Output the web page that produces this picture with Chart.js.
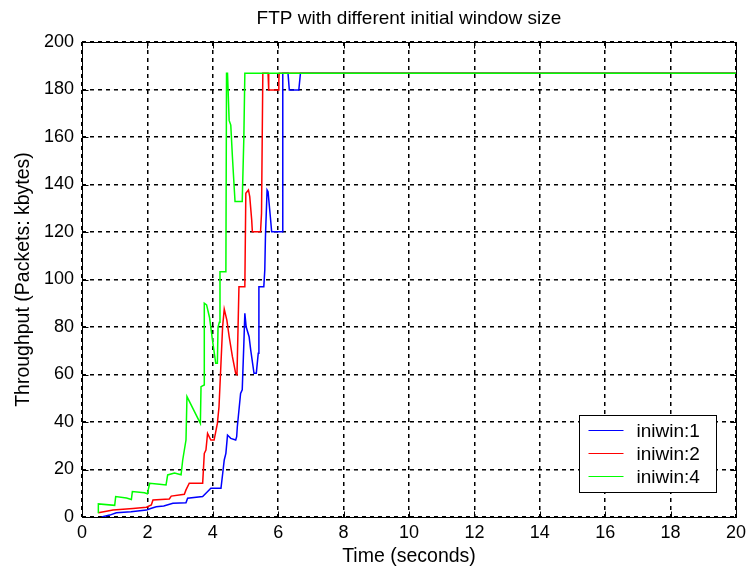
<!DOCTYPE html>
<html>
<head>
<meta charset="utf-8">
<script src="https://cdn.jsdelivr.net/npm/chart.js@4/dist/chart.umd.min.js"></script>
<style>
  html, body { margin: 0; padding: 0; background: #ffffff; }
  #wrap { width: 751px; height: 568px; position: relative; }
</style>
</head>
<body>
<div id="wrap"><canvas id="chart" width="751" height="568"></canvas></div>
<script>
// Axis ticks
const xTicks = [0, 2, 4, 6, 8, 10, 12, 14, 16, 18, 20];
const yTicks = [0, 20, 40, 60, 80, 100, 120, 140, 160, 180, 200];

// Title, series names and colours
const chartTitle = 'FTP with different initial window size';
const seriesLabels = ['iniwin:1', 'iniwin:2', 'iniwin:4'];
const seriesColors = ['#0000ff', '#ff0000', '#00ff00'];

// iniwin:1 — time (s) and throughput
const timeWin1 = [0.60, 0.85, 1.05, 1.50, 1.97, 2.10, 2.27, 2.50, 2.78, 3.18, 3.23, 3.69, 3.79, 3.94, 4.25, 4.30, 4.35, 4.40, 4.45, 4.55, 4.70, 4.73, 4.75, 4.85, 4.90, 4.95, 4.98, 5.02, 5.11, 5.16, 5.26, 5.33, 5.39, 5.41, 5.56, 5.59, 5.61, 5.66, 5.69, 5.76, 5.80, 6.12, 6.14, 6.30, 6.34, 6.63, 6.68, 20];
const tputWin1 = [0.0, 0.8, 1.8, 2.2, 2.9, 3.6, 4.3, 4.6, 5.8, 6.0, 7.9, 8.6, 10.0, 12.1, 12.1, 18.0, 24.0, 26.8, 34.5, 33.1, 32.4, 33.8, 38.0, 52.0, 53.5, 73.1, 85.8, 80.1, 75.9, 70.3, 60.5, 60.5, 68.9, 97.0, 97.0, 104.0, 118.0, 137.7, 137.0, 126.4, 120.1, 120.1, 186.8, 186.8, 179.8, 179.8, 186.8, 186.8];

// iniwin:2
const timeWin2 = [0.50, 0.95, 1.56, 1.97, 2.12, 2.17, 2.67, 2.73, 3.13, 3.18, 3.28, 3.69, 3.74, 3.79, 3.84, 3.94, 4.04, 4.14, 4.19, 4.25, 4.30, 4.35, 4.43, 4.50, 4.60, 4.70, 4.74, 4.80, 4.98, 5.01, 5.09, 5.13, 5.19, 5.21, 5.46, 5.49, 5.53, 5.69, 5.71, 6.00, 6.02, 6.03, 20];
const tputWin2 = [1.8, 2.9, 3.6, 4.1, 5.1, 7.2, 7.6, 8.8, 9.6, 11.4, 14.2, 14.2, 26.8, 28.2, 35.2, 32.4, 32.4, 39.4, 46.4, 64.7, 80.1, 87.5, 82.9, 76.0, 67.5, 60.5, 60.0, 97.0, 97.0, 136.3, 137.7, 134.9, 125.0, 120.1, 120.1, 127.9, 186.8, 186.8, 179.8, 179.8, 184.0, 186.8, 186.8];

// iniwin:4
const timeWin4 = [0.50, 0.50, 1.00, 1.03, 1.36, 1.51, 1.54, 1.91, 2.00, 2.07, 2.37, 2.57, 2.62, 2.83, 3.03, 3.08, 3.18, 3.21, 3.62, 3.64, 3.74, 3.74, 3.81, 3.90, 3.99, 4.09, 4.14, 4.16, 4.20, 4.22, 4.40, 4.42, 4.45, 4.50, 4.55, 4.60, 4.65, 4.68, 4.90, 4.95, 4.98, 20];
const tputWin4 = [1.6, 5.5, 4.9, 8.6, 8.0, 7.4, 10.7, 10.2, 9.8, 14.2, 13.8, 13.5, 17.7, 18.5, 17.8, 24.0, 32.4, 50.7, 39.4, 54.9, 55.6, 90.0, 89.3, 84.0, 74.5, 64.7, 64.7, 80.0, 82.0, 103.3, 103.3, 186.8, 186.8, 167.0, 165.0, 151.7, 139.8, 132.8, 132.8, 160.0, 186.8, 186.8];

const FONT = '"Liberation Sans", Arial, Helvetica, sans-serif';

function toPoints(xs, ys) {
  return xs.map((x, i) => ({ x: x, y: ys[i] }));
}

// Title centred over the plot box, solid frame, inward ticks and boxed legend
const framePlugin = {
  id: 'frameAndLegend',
  afterDatasetsDraw(chart) {
    const { ctx, chartArea: a, scales } = chart;
    const L = Math.round(a.left) + 0.5, R = Math.round(a.right) + 0.5;
    const T = Math.round(a.top) + 0.5, B = Math.round(a.bottom) + 0.5;
    ctx.save();

    ctx.fillStyle = '#000';
    ctx.font = '19px ' + FONT;
    ctx.textAlign = 'center';
    ctx.textBaseline = 'middle';
    ctx.fillText(chartTitle, (a.left + a.right) / 2, 19);

    ctx.strokeStyle = '#000';
    ctx.lineWidth = 1;
    ctx.setLineDash([]);
    ctx.strokeRect(L, T, R - L, B - T);
    const tl = 6;
    ctx.beginPath();
    xTicks.forEach(v => {
      const px = Math.round(scales.x.getPixelForValue(v)) + 0.5;
      ctx.moveTo(px, B); ctx.lineTo(px, B - tl);
      ctx.moveTo(px, T); ctx.lineTo(px, T + tl);
    });
    yTicks.forEach(v => {
      const py = Math.round(scales.y.getPixelForValue(v)) + 0.5;
      ctx.moveTo(L, py); ctx.lineTo(L + tl, py);
      ctx.moveTo(R, py); ctx.lineTo(R - tl, py);
    });
    ctx.stroke();

    // legend
    const bx = Math.round(a.right - 157) + 0.5, by = Math.round(a.bottom - 102) + 0.5;
    const bw = 137, bh = 77;
    ctx.fillStyle = '#fff';
    ctx.fillRect(bx, by, bw, bh);
    ctx.strokeRect(bx, by, bw, bh);
    ctx.font = '19px ' + FONT;
    ctx.textBaseline = 'middle';
    ctx.textAlign = 'left';
    chart.data.datasets.forEach((ds, i) => {
      const y = Math.round(by + 14 + i * 23) + 0.5;
      ctx.strokeStyle = ds.borderColor;
      ctx.lineWidth = 1;
      ctx.beginPath();
      ctx.moveTo(bx + 9, y); ctx.lineTo(bx + 44, y);
      ctx.stroke();
      ctx.fillStyle = '#000';
      ctx.fillText(ds.label, bx + 57, y + 1);
    });
    ctx.restore();
  }
};

const datasets = [
  { label: seriesLabels[0], data: toPoints(timeWin1, tputWin1), borderColor: seriesColors[0], order: 3 },
  { label: seriesLabels[1], data: toPoints(timeWin2, tputWin2), borderColor: seriesColors[1], order: 2 },
  { label: seriesLabels[2], data: toPoints(timeWin4, tputWin4), borderColor: seriesColors[2], order: 1 }
].map(d => Object.assign(d, {
  borderWidth: 1.5,
  pointRadius: 0,
  pointHoverRadius: 0,
  tension: 0,
  fill: false,
  backgroundColor: d.borderColor
}));

new Chart(document.getElementById('chart'), {
  type: 'line',
  data: { datasets: datasets },
  options: {
    responsive: false,
    animation: false,
    devicePixelRatio: 1,
    layout: { padding: { left: 0, right: 11, top: 42, bottom: 0 } },
    plugins: {
      legend: { display: false },
      tooltip: { enabled: false },
      title: { display: false }
    },
    scales: {
      x: {
        type: 'linear',
        min: 0, max: 20,
        afterFit(scale) { scale.height = 51; },
        afterBuildTicks(scale) { scale.ticks = xTicks.map(v => ({ value: v })); },
        ticks: { color: '#000', font: { family: FONT, size: 18 }, padding: 5, maxRotation: 0, autoSkip: false },
        grid: { color: '#000', lineWidth: 1.5, drawTicks: false },
        border: { display: false, dash: [4, 4] },
        title: {
          display: true, text: 'Time (seconds)', color: '#000',
          font: { family: FONT, size: 19.5, lineHeight: 1.2 }, padding: { top: 0, bottom: 0 }
        }
      },
      y: {
        type: 'linear',
        min: 0, max: 200,
        afterFit(scale) { scale.width = 82; },
        afterBuildTicks(scale) { scale.ticks = yTicks.map(v => ({ value: v })); },
        ticks: { color: '#000', font: { family: FONT, size: 18 }, padding: 8, autoSkip: false },
        grid: { color: '#000', lineWidth: 1.5, drawTicks: false },
        border: { display: false, dash: [4, 4] },
        title: {
          display: true, text: 'Throughput (Packets: kbytes)', color: '#000',
          font: { family: FONT, size: 19.5, lineHeight: 1.2 }, padding: { top: 12, bottom: 0 }
        }
      }
    }
  },
  plugins: [framePlugin]
});
</script>
</body>
</html>
